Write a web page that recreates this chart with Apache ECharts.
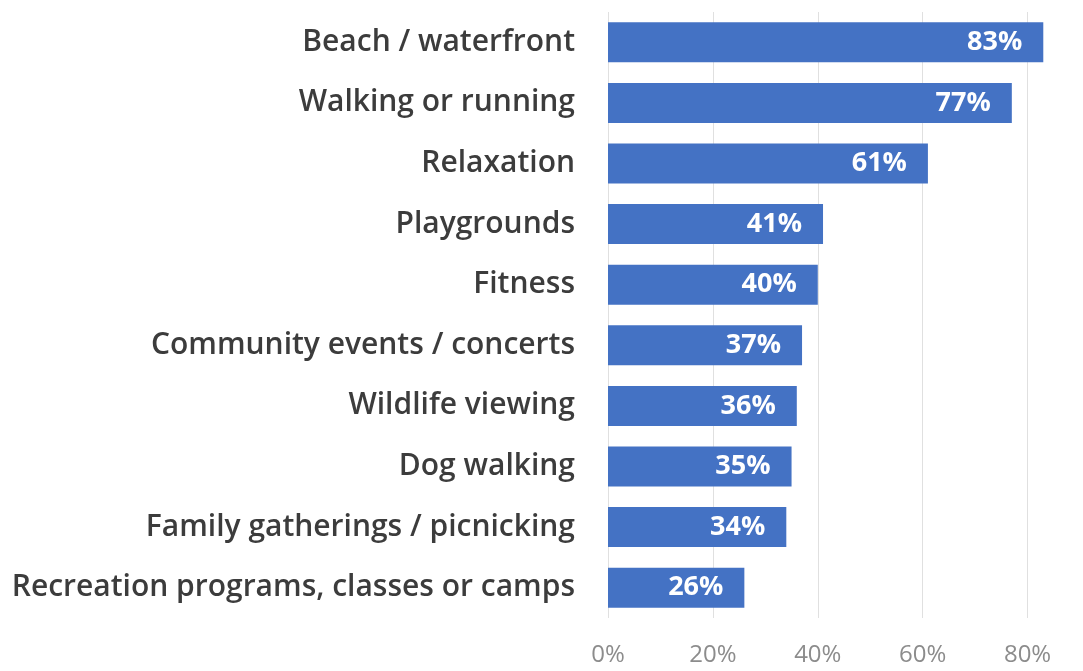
<!DOCTYPE html>
<html>
<head>
<meta charset="utf-8">
<script src="https://cdn.jsdelivr.net/npm/echarts@6/dist/echarts.min.js"></script>
<style>
  html, body { margin: 0; padding: 0; background: #ffffff; }
  #chart { width: 1083px; height: 671px; }
</style>
</head>
<body>
<div id="chart"></div>
<script>
// Activities, listed top to bottom
const categories = [
  'Beach / waterfront',
  'Walking or running',
  'Relaxation',
  'Playgrounds',
  'Fitness',
  'Community events / concerts',
  'Wildlife viewing',
  'Dog walking',
  'Family gatherings / picnicking',
  'Recreation programs, classes or camps'
];
// Share of respondents (%)
const values = [83, 77, 61, 41, 40, 37, 36, 35, 34, 26];
// Axis ticks (%)
const tickValues = [0, 20, 40, 60, 80];

const chart = echarts.init(document.getElementById('chart'), null, { renderer: 'canvas' });

chart.setOption({
  backgroundColor: '#ffffff',
  animation: false,
  grid: { left: 608, right: 3, top: 12, bottom: 53, containLabel: false },
  xAxis: {
    type: 'value',
    min: 0,
    max: 90,
    interval: 20,
    axisLine: { show: false },
    axisTick: { show: false },
    splitLine: {
      show: true,
      showMaxLine: false,
      lineStyle: { color: '#e0e0e0', width: 1 }
    },
    axisLabel: {
      showMaxLabel: false,
      margin: 25,
      color: '#8c8c8c',
      fontFamily: 'Open Sans',
      fontSize: 24,
      formatter: v => tickValues.includes(v) ? v + '%' : ''
    }
  },
  yAxis: {
    type: 'category',
    inverse: true,
    data: categories,
    axisLine: { show: false },
    axisTick: { show: false },
    axisLabel: {
      margin: 33,
      color: '#3c3c3c',
      fontFamily: 'Open Sans',
      fontWeight: 600,
      fontSize: 30
    }
  },
  series: [{
    type: 'bar',
    data: values,
    barCategoryGap: '34%',
    itemStyle: { color: '#4472c4' },
    label: {
      show: true,
      position: 'insideRight',
      distance: 21,
      color: '#ffffff',
      fontFamily: 'Open Sans',
      fontWeight: 700,
      fontSize: 27,
      formatter: p => p.value + '%'
    }
  }]
});
</script>
</body>
</html>
